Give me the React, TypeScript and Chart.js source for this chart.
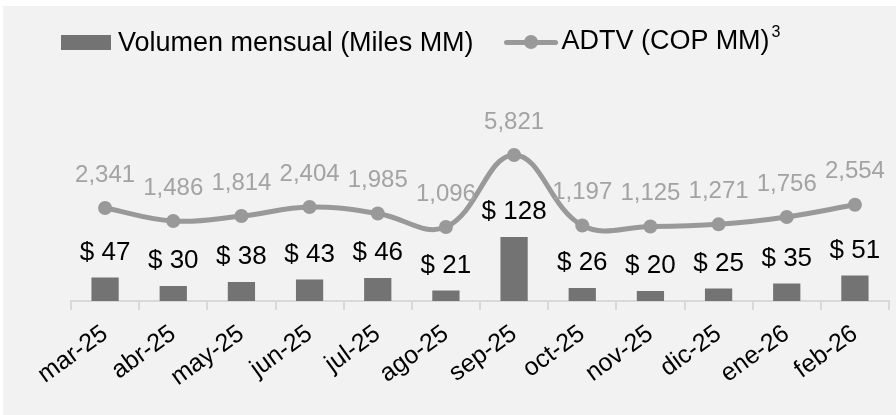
import React, { useEffect, useRef } from "react";
import { Chart, registerables } from "chart.js";

Chart.register(...registerables);

const categories = ["mar-25", "abr-25", "may-25", "jun-25", "jul-25", "ago-25", "sep-25", "oct-25", "nov-25", "dic-25", "ene-26", "feb-26"];
const volumen = [47, 30, 38, 43, 46, 21, 128, 26, 20, 25, 35, 51];
const adtv = [2341, 1486, 1814, 2404, 1985, 1096, 5821, 1197, 1125, 1271, 1756, 2554];
const volumenLabel = "Volumen mensual (Miles MM)";
const adtvLabel = "ADTV (COP MM)";
const adtvSup = "3";

const FONT = "'Liberation Sans', Arial, sans-serif";
const BAR_COLOR = "#737373";
const LINE_COLOR = "#999999";
const LINE_LABEL_COLOR = "#a3a3a3";

const fmt = (v: number) => v.toLocaleString("en-US");

const labelPlugin = {
  id: "valueLabels",
  afterDatasetsDraw(chart: any) {
    const ctx = chart.ctx;
    ctx.save();
    ctx.textAlign = "center";
    ctx.textBaseline = "middle";
    chart.data.datasets.forEach((ds: any, i: number) => {
      const meta = chart.getDatasetMeta(i);
      meta.data.forEach((el: any, j: number) => {
        const v = ds.data[j];
        if (ds.type === "bar") {
          ctx.font = `26px ${FONT}`;
          ctx.fillStyle = "#000000";
          ctx.fillText("$ " + v, el.x, el.y - 25);
        } else {
          ctx.font = `24px ${FONT}`;
          ctx.fillStyle = LINE_LABEL_COLOR;
          ctx.fillText(fmt(v), el.x, el.y - 33);
        }
      });
    });
    ctx.restore();
  },
};

function ChartView() {
  const ref = useRef<HTMLCanvasElement | null>(null);
  useEffect(() => {
    if (!ref.current) return;
    const chart = new Chart(ref.current, {
      type: "bar",
      data: {
        labels: categories,
        datasets: [
          {
            type: "line",
            label: adtvLabel,
            data: adtv,
            yAxisID: "y1",
            borderColor: LINE_COLOR,
            backgroundColor: LINE_COLOR,
            borderWidth: 5,
            pointRadius: 7,
            pointBackgroundColor: LINE_COLOR,
            pointBorderWidth: 0,
            tension: 0.4,
            order: 0,
          } as any,
          {
            type: "bar",
            label: volumenLabel,
            data: volumen,
            yAxisID: "y",
            backgroundColor: BAR_COLOR,
            barPercentage: 0.4,
            categoryPercentage: 1,
            order: 1,
          } as any,
        ],
      },
      options: {
        responsive: false,
        animation: false,
        layout: { padding: { left: 68, right: 7, top: 74, bottom: 0 } },
        plugins: { legend: { display: false }, tooltip: { enabled: false } },
        scales: {
          x: {
            offset: true,
            grid: {
              display: true,
              drawOnChartArea: false,
              drawTicks: true,
              tickLength: 9,
              color: "#d9d9d9",
              lineWidth: 2,
              offset: true,
            },
            border: { display: true, color: "#d9d9d9", width: 2 },
            ticks: {
              autoSkip: false,
              minRotation: 36,
              maxRotation: 36,
              padding: 9,
              color: "#000000",
              font: { family: FONT, size: 25 },
            },
            afterFit: (s: any) => {
              s.height = 114;
            },
          },
          y: { display: false, min: 0, max: 442 },
          y1: { display: false, min: -3760, max: 10741 },
        },
      },
      plugins: [labelPlugin],
    });
    return () => chart.destroy();
  }, []);
  return <canvas ref={ref} width={893} height={409} style={{ position: "absolute", left: 0, top: 0 }} />;
}

export default function App() {
  return (
    <div style={{ position: "absolute", left: 0, top: 0, width: 896, height: 415, background: "#ffffff" }}>
      <div
        style={{
          position: "absolute",
          left: 3,
          top: 6,
          width: 893,
          height: 409,
          background: "#f2f2f2",
          fontFamily: FONT,
        }}
      >
        <ChartView />
        <div
          style={{
            position: "absolute",
            left: 58,
            top: 21,
            display: "flex",
            alignItems: "center",
            fontSize: 27,
            lineHeight: "27px",
            color: "#000",
            whiteSpace: "nowrap",
          }}
        >
          <span style={{ display: "inline-block", width: 50, height: 15, background: BAR_COLOR, marginRight: 7 }} />
          <span>{volumenLabel}</span>
          <span style={{ position: "relative", display: "inline-block", width: 54, height: 15, marginLeft: 30, marginRight: 4 }}>
            <span style={{ position: "absolute", left: 0, top: 5, width: 54, height: 5, background: LINE_COLOR, borderRadius: 3 }} />
            <span style={{ position: "absolute", left: 20, top: 0, width: 14, height: 14, background: LINE_COLOR, borderRadius: 7 }} />
          </span>
          <span>
            {adtvLabel}
            <span style={{ fontSize: 16, position: "relative", top: -12, marginLeft: 2 }}>{adtvSup}</span>
          </span>
        </div>
      </div>
    </div>
  );
}
